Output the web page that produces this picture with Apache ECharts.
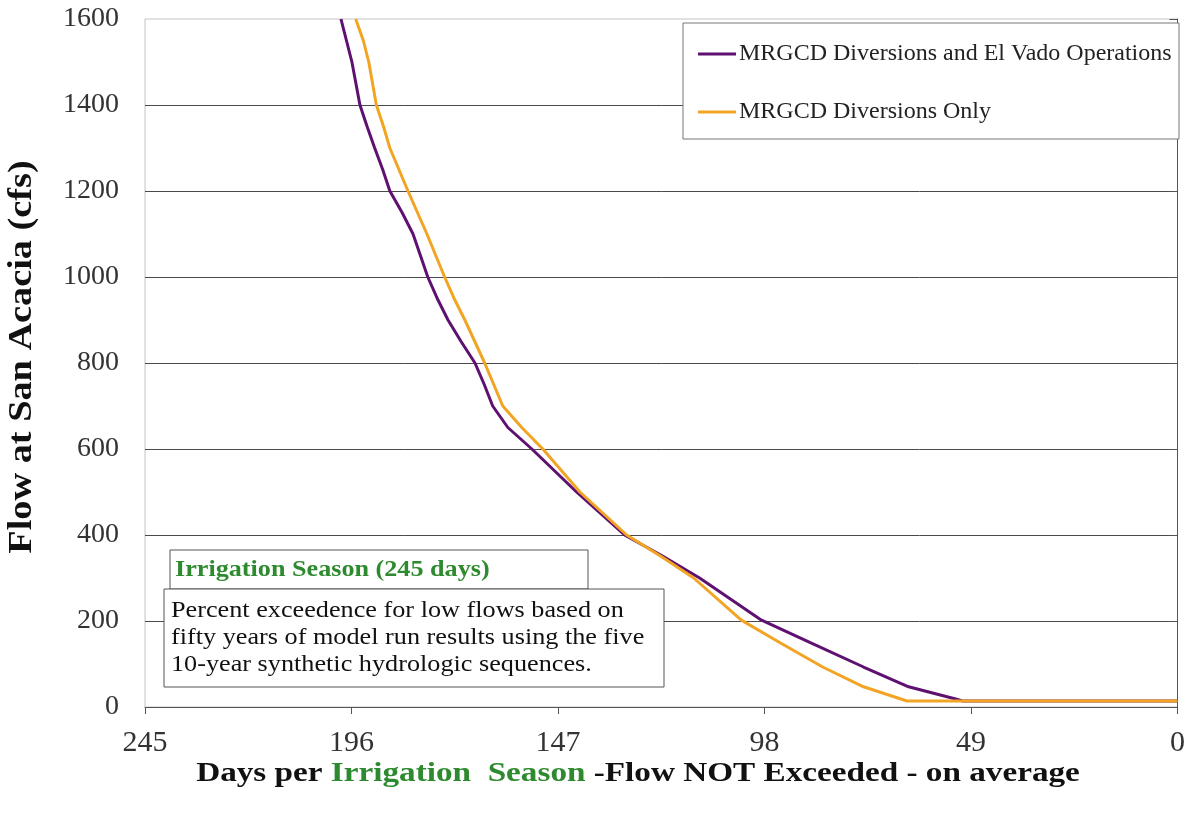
<!DOCTYPE html>
<html>
<head>
<meta charset="utf-8">
<script src="https://cdn.jsdelivr.net/npm/echarts@6/dist/echarts.min.js"></script>
<style>
  html, body { margin: 0; padding: 0; background: #fff; }
  #chart { width: 1188px; height: 817px; }
</style>
</head>
<body>
<div id="chart"></div>
<script>
// Flow-duration curves at San Acacia, irrigation season (245 days)
const seriesNames = ['MRGCD Diversions and El Vado Operations', 'MRGCD Diversions Only'];

// Days per season the flow is not exceeded, paired with flow (cfs)
const elVadoDays = [198.5, 197.2, 195.9, 194.0, 192.3, 190.5, 188.6, 186.9, 184.0, 181.4, 177.9, 175.5, 173.1, 170.0, 166.7, 164.5, 162.5, 158.9, 153.2, 142.6, 131.2, 122.0, 113.4, 98.7, 87.0, 74.5, 63.8, 52.4, 51.0, 0];
const elVadoFlow = [1600, 1550, 1500, 1400, 1350, 1300, 1250, 1200, 1150, 1100, 1000, 947, 900, 850, 800, 750, 700, 650, 600, 500, 400, 350, 300, 202, 149, 93, 47, 18, 14, 14];

const divOnlyDays = [195.0, 193.2, 191.9, 190.1, 188.4, 186.9, 182.6, 178.1, 173.9, 171.5, 169.1, 164.4, 160.1, 155.6, 150.6, 141.8, 130.7, 122.5, 114.8, 103.5, 94.2, 84.2, 74.5, 64.2, 0];
const divOnlyFlow = [1600, 1550, 1500, 1400, 1350, 1300, 1200, 1100, 1000, 947, 900, 800, 700, 650, 600, 500, 400, 350, 300, 202, 149, 93, 47, 14, 14];

const xTicks = [245, 196, 147, 98, 49, 0];
const yTicks = [0, 200, 400, 600, 800, 1000, 1200, 1400, 1600];

const pair = (xs, ys) => xs.map((x, i) => [x, ys[i]]);

const serif = '"Liberation Serif", "Times New Roman", serif';
const green = '#2e8a2e';

const chart = echarts.init(document.getElementById('chart'), null, { renderer: 'canvas' });

chart.setOption({
  animation: false,
  backgroundColor: '#fff',
  grid: {
    left: 145, right: 10, top: 19, bottom: 110,
    show: true, borderColor: '#c4c4c4', borderWidth: 1
  },
  xAxis: {
    type: 'value',
    inverse: true,
    min: xTicks[xTicks.length - 1],
    max: xTicks[0],
    interval: 49,
    axisLine: { show: true, lineStyle: { color: '#555', width: 1 } },
    axisTick: { show: true, inside: false, length: 7, lineStyle: { color: '#555' } },
    axisLabel: { color: '#333', fontFamily: serif, fontSize: 30, margin: 21 },
    splitLine: { show: false }
  },
  yAxis: {
    type: 'value',
    min: yTicks[0],
    max: yTicks[yTicks.length - 1],
    interval: 200,
    axisLine: { show: true, lineStyle: { color: '#555', width: 1 } },
    axisTick: { show: true, length: 8, lineStyle: { color: '#555' } },
    axisLabel: { color: '#333', fontFamily: serif, fontSize: 28, margin: 26, formatter: v => String(v) },
    splitLine: { show: true, showMaxLine: false, lineStyle: { color: '#4a4a4a', width: 1 } }
  },
  legend: {
    orient: 'vertical',
    left: 693,
    top: 37,
    z: 20,
    data: seriesNames,
    icon: 'rect',
    itemWidth: 38,
    itemHeight: 3,
    itemGap: 34,
    textStyle: { fontFamily: serif, fontSize: 24, color: '#222', padding: [0, 0, 0, -2] }
  },
  series: [
    {
      name: seriesNames[0],
      type: 'line',
      data: pair(elVadoDays, elVadoFlow),
      showSymbol: false,
      symbol: 'none',
      lineStyle: { color: '#5e1170', width: 3 },
      itemStyle: { color: '#5e1170' },
      z: 3
    },
    {
      name: seriesNames[1],
      type: 'line',
      data: pair(divOnlyDays, divOnlyFlow),
      showSymbol: false,
      symbol: 'none',
      lineStyle: { color: '#f2a525', width: 3 },
      itemStyle: { color: '#f2a525' },
      z: 4
    }
  ],
  graphic: [
    // legend frame
    { type: 'rect', z: 10, shape: { x: 683, y: 23, width: 496, height: 116 },
      style: { fill: '#fff', stroke: '#777', lineWidth: 1 } },
    // note boxes
    { type: 'rect', z: 10, shape: { x: 170, y: 550, width: 418, height: 39 },
      style: { fill: '#fff', stroke: '#555', lineWidth: 1 } },
    { type: 'text', z: 11, x: 175, y: 570, scaleX: 1.09,
      style: { text: 'Irrigation Season (245 days)', fill: green, font: 'bold 24px ' + serif,
               textVerticalAlign: 'middle', verticalAlign: 'middle' } },
    { type: 'rect', z: 12, shape: { x: 164, y: 589, width: 500, height: 98 },
      style: { fill: '#fff', stroke: '#555', lineWidth: 1 } },
    { type: 'text', z: 13, x: 171, y: 597, scaleX: 1.14,
      style: { text: 'Percent exceedence for low flows based on\nfifty years of model run results using the five\n10-year synthetic hydrologic sequences.',
               fill: '#111', font: '23px ' + serif, lineHeight: 27 } },
    // axis titles
    { type: 'text', z: 11, x: 22, y: 357, rotation: Math.PI / 2, scaleX: 1.16,
      style: { text: 'Flow at San Acacia (cfs)', fill: '#111', font: 'bold 33px ' + serif,
               align: 'center', verticalAlign: 'middle', textAlign: 'center', textVerticalAlign: 'middle' } },
    { type: 'text', z: 11, x: 638, y: 774, scaleX: 1.23,
      style: {
        text: '{a|Days per }{g|Irrigation  Season}{a| -Flow NOT Exceeded - on average}',
        align: 'center', verticalAlign: 'middle', textAlign: 'center', textVerticalAlign: 'middle',
        rich: {
          a: { fontFamily: serif, fontWeight: 'bold', fontSize: 27, fill: '#111', color: '#111' },
          g: { fontFamily: serif, fontWeight: 'bold', fontSize: 27, fill: green, color: green }
        }
      } }
  ]
});
</script>
</body>
</html>
